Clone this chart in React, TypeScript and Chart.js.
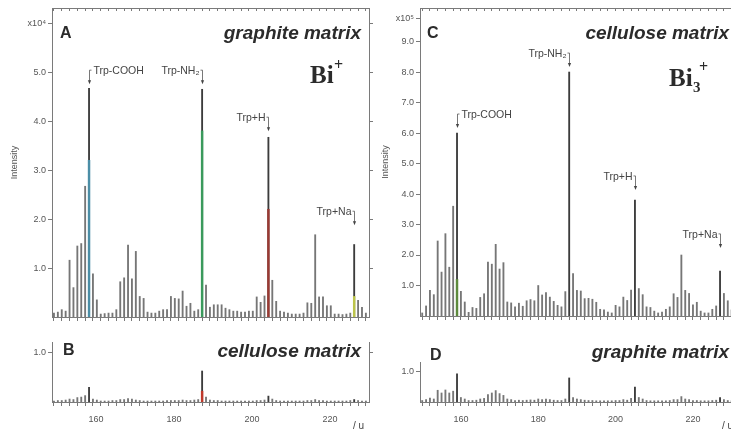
import React, { useEffect, useRef } from 'react';
import { Chart, registerables } from 'chart.js';

Chart.register(...registerables);

// ---------------- data ----------------
const masses = [
  150, 151, 152, 153, 154, 155, 156, 157, 158, 159,
  160, 161, 162, 163, 164, 165, 166, 167, 168, 169,
  170, 171, 172, 173, 174, 175, 176, 177, 178, 179,
  180, 181, 182, 183, 184, 185, 186, 187, 188, 189,
  190, 191, 192, 193, 194, 195, 196, 197, 198, 199,
  200, 201, 202, 203, 204, 205, 206, 207, 208, 209,
  210, 211, 212, 213, 214, 215, 216, 217, 218, 219,
  220, 221, 222, 223, 224, 225, 226, 227, 228, 229,
  230,
];

// Panel A: Bi+ , graphite matrix (x10^4)
const intensityA = [
  0.08, 0.1, 0.15, 0.12, 1.16, 0.6, 1.45, 1.5, 2.67, 4.67,
  0.88, 0.35, 0.06, 0.07, 0.08, 0.08, 0.15, 0.72, 0.8, 1.47,
  0.78, 1.34, 0.42, 0.38, 0.1, 0.08, 0.08, 0.12, 0.15, 0.15,
  0.42, 0.38, 0.37, 0.53, 0.22, 0.28, 0.12, 0.15, 4.65, 0.65,
  0.2, 0.25, 0.25, 0.25, 0.18, 0.15, 0.12, 0.12, 0.1, 0.1,
  0.12, 0.12, 0.41, 0.3, 0.43, 3.67, 0.75, 0.32, 0.12, 0.1,
  0.08, 0.06, 0.06, 0.06, 0.08, 0.29, 0.28, 1.68, 0.41, 0.41,
  0.23, 0.23, 0.06, 0.06, 0.05, 0.06, 0.08, 1.48, 0.34, 0.2,
  0.08,
];

// Panel B: Bi+ , cellulose matrix (x10^4)
const intensityB = [
  0.02, 0.03, 0.03, 0.04, 0.06, 0.05, 0.09, 0.1, 0.13, 0.3,
  0.06, 0.04, 0.02, 0.02, 0.02, 0.03, 0.03, 0.05, 0.05, 0.07,
  0.06, 0.04, 0.03, 0.02, 0.02, 0.02, 0.02, 0.02, 0.02, 0.03,
  0.03, 0.03, 0.03, 0.04, 0.03, 0.03, 0.04, 0.05, 0.63, 0.1,
  0.04, 0.03, 0.03, 0.02, 0.02, 0.02, 0.02, 0.02, 0.02, 0.02,
  0.02, 0.02, 0.03, 0.03, 0.04, 0.12, 0.06, 0.03, 0.02, 0.02,
  0.02, 0.02, 0.02, 0.02, 0.02, 0.03, 0.03, 0.05, 0.03, 0.03,
  0.02, 0.02, 0.02, 0.02, 0.02, 0.02, 0.03, 0.05, 0.03, 0.02,
  0.02,
];

// Panel C: Bi3+ , cellulose matrix (x10^5)
const intensityC = [
  0.1, 0.33, 0.84, 0.7, 2.46, 1.44, 2.7, 1.6, 3.6, 6.0,
  0.81, 0.46, 0.12, 0.28, 0.25, 0.61, 0.73, 1.77, 1.7, 2.35,
  1.54, 1.75, 0.46, 0.43, 0.3, 0.42, 0.32, 0.5, 0.54, 0.5,
  1.0, 0.69, 0.77, 0.62, 0.48, 0.35, 0.3, 0.8, 8.0, 1.39,
  0.84, 0.82, 0.57, 0.58, 0.55, 0.45, 0.22, 0.2, 0.13, 0.1,
  0.35, 0.3, 0.62, 0.51, 0.85, 3.8, 0.9, 0.7, 0.3, 0.28,
  0.16, 0.1, 0.13, 0.22, 0.3, 0.73, 0.61, 2.0, 0.84, 0.74,
  0.37, 0.45, 0.16, 0.1, 0.1, 0.22, 0.33, 1.47, 0.74, 0.5,
  0.2,
];

// Panel D: Bi3+ , graphite matrix (x10^5)
const intensityD = [
  0.05, 0.08, 0.13, 0.1, 0.39, 0.3, 0.4, 0.3, 0.36, 0.94,
  0.15, 0.1, 0.05, 0.05, 0.06, 0.1, 0.12, 0.25, 0.3, 0.38,
  0.28, 0.22, 0.1, 0.08, 0.05, 0.06, 0.05, 0.06, 0.07, 0.06,
  0.1, 0.08, 0.1, 0.08, 0.06, 0.05, 0.05, 0.1, 0.8, 0.15,
  0.1, 0.08, 0.06, 0.05, 0.05, 0.04, 0.04, 0.04, 0.04, 0.04,
  0.05, 0.05, 0.08, 0.06, 0.12, 0.5, 0.15, 0.1, 0.05, 0.04,
  0.04, 0.04, 0.04, 0.04, 0.05, 0.08, 0.08, 0.18, 0.1, 0.08,
  0.05, 0.05, 0.04, 0.04, 0.04, 0.05, 0.06, 0.15, 0.08, 0.05,
  0.04,
];

// coloured (overlaid) parts of the main peaks
const highlightMassA = [159, 188, 205, 227];
const highlightValA = [3.2, 3.8, 2.2, 0.42];
const highlightColorA = ['#4b8ea6', '#3a9a5c', '#9a3a33', '#bcc44a'];
const highlightMassB = [188];
const highlightValB = [0.22];
const highlightColorB = ['#c0392b'];
const highlightMassC = [159];
const highlightValC = [1.2];
const highlightColorC = ['#5d8a3c'];
const highlightMassD: number[] = [];
const highlightValD: number[] = [];
const highlightColorD: string[] = [];

// peak annotations
const peakMass = [159, 188, 205, 227];
const peakNames = ['Trp-COOH', 'Trp-NH\u2082', 'Trp+H', 'Trp+Na'];
const peakSides = ['right', 'left', 'left', 'left'];
const labelLevelA = [5.02, 5.02, 4.06, 2.14];
const labelLevelC = [6.59, 8.59, 4.56, 2.66];

// axis ticks
const xTicks = [
  150, 152, 154, 156, 158, 160, 162, 164, 166, 168, 170, 172, 174, 176, 178,
  180, 182, 184, 186, 188, 190, 192, 194, 196, 198, 200, 202, 204, 206, 208,
  210, 212, 214, 216, 218, 220, 222, 224, 226, 228, 230,
];
const xLabelTicks = [160, 180, 200, 220];
const yTicksA = [1, 2, 3, 4, 5, 6];
const yLabelsA = ['1.0', '2.0', '3.0', '4.0', '5.0', 'x10\u2074'];
const yTicksB = [1];
const yLabelsB = ['1.0'];
const yTicksC = [1, 2, 3, 4, 5, 6, 7, 8, 9, 9.75];
const yLabelsC = ['1.0', '2.0', '3.0', '4.0', '5.0', '6.0', '7.0', '8.0', '9.0', 'x10\u2075'];
const yTicksD = [1];
const yLabelsD = ['1.0'];

// ---------------- drawing helpers ----------------
const CW = 760;
const CH = 430;
const SANS = '"Liberation Sans", Arial, sans-serif';
const SERIF = '"Liberation Serif", "Times New Roman", serif';
const AXIS = '#7a7a7a';
const TICKTXT = '#555';

function drawAnnotations(ctx: CanvasRenderingContext2D, chart: any, levels: number[]) {
  const xs = chart.scales.x;
  const ys = chart.scales.y;
  ctx.save();
  ctx.font = `10.5px ${SANS}`;
  ctx.fillStyle = '#444';
  ctx.strokeStyle = '#555';
  ctx.lineWidth = 0.8;
  ctx.textBaseline = 'middle';
  peakMass.forEach((m, i) => {
    const px = Math.round(xs.getPixelForValue(m)) + 0.5;
    const py = ys.getPixelForValue(levels[i]);
    if (peakSides[i] === 'right') {
      ctx.textAlign = 'left';
      ctx.fillText(peakNames[i], px + 4, py);
    } else {
      ctx.textAlign = 'right';
      ctx.fillText(peakNames[i], px - 3, py);
    }
    const hx = peakSides[i] === 'right' ? px + 2 : px - 2;
    ctx.beginPath();
    ctx.moveTo(hx, py - 1);
    ctx.lineTo(px, py - 1);
    ctx.lineTo(px, py + 11);
    ctx.stroke();
    ctx.beginPath();
    ctx.moveTo(px - 1.6, py + 9);
    ctx.lineTo(px + 1.6, py + 9);
    ctx.lineTo(px, py + 13);
    ctx.closePath();
    ctx.fill();
  });
  ctx.restore();
}

function drawText(ctx: CanvasRenderingContext2D, text: string, x: number, y: number, font: string, align: CanvasTextAlign, color = '#2b2b2b') {
  ctx.save();
  ctx.font = font;
  ctx.fillStyle = color;
  ctx.textAlign = align;
  ctx.textBaseline = 'alphabetic';
  ctx.fillText(text, x, y);
  ctx.restore();
}

type Spec = {
  left: number; top: number; right: number; bottom: number;
  xMin: number; xMax: number; yMax: number;
  values: number[];
  hiMass: number[]; hiVal: number[]; hiColor: string[];
  yTicks: number[]; yLabels: string[];
  showXLabels: boolean; showTop: boolean; showRight: boolean; showTitle: boolean;
  titlePad: number; labelOffset: number;
  draw: (ctx: CanvasRenderingContext2D, chart: any) => void;
};

const panels: Spec[] = [
  {
    left: 52, top: 8, right: 369, bottom: 317,
    xMin: 149.5, xMax: 230.8, yMax: 6.31,
    values: intensityA, hiMass: highlightMassA, hiVal: highlightValA, hiColor: highlightColorA,
    yTicks: yTicksA, yLabels: yLabelsA,
    showXLabels: false, showTop: true, showRight: true, showTitle: true, titlePad: 5, labelOffset: 0,
    draw: (ctx, chart) => {
      drawText(ctx, 'A', 60, 38, `bold 16px ${SANS}`, 'left');
      drawText(ctx, 'graphite matrix', 361, 39, `italic bold 19px ${SANS}`, 'right');
      drawText(ctx, 'Bi', 310, 83, `bold 25px ${SERIF}`, 'left');
      drawText(ctx, '+', 334, 70, `bold 16px ${SERIF}`, 'left');
      drawAnnotations(ctx, chart, labelLevelA);
    },
  },
  {
    left: 52, top: 342, right: 369, bottom: 402,
    xMin: 149.5, xMax: 230.8, yMax: 1.22,
    values: intensityB, hiMass: highlightMassB, hiVal: highlightValB, hiColor: highlightColorB,
    yTicks: yTicksB, yLabels: yLabelsB,
    showXLabels: true, showTop: false, showRight: true, showTitle: false, titlePad: 6, labelOffset: 3,
    draw: (ctx) => {
      drawText(ctx, 'B', 63, 355, `bold 16px ${SANS}`, 'left');
      drawText(ctx, 'cellulose matrix', 361, 357, `italic bold 19px ${SANS}`, 'right');
      drawText(ctx, '/ u', 353, 429, `10px ${SANS}`, 'left', '#444');
    },
  },
  {
    left: 420, top: 8, right: 740, bottom: 316,
    xMin: 149.43, xMax: 232.16, yMax: 10.1,
    values: intensityC, hiMass: highlightMassC, hiVal: highlightValC, hiColor: highlightColorC,
    yTicks: yTicksC, yLabels: yLabelsC,
    showXLabels: false, showTop: true, showRight: false, showTitle: true, titlePad: 8, labelOffset: 0,
    draw: (ctx, chart) => {
      drawText(ctx, 'C', 427, 38, `bold 16px ${SANS}`, 'left');
      drawText(ctx, 'cellulose matrix', 729, 39, `italic bold 19px ${SANS}`, 'right');
      drawText(ctx, 'Bi', 669, 86, `bold 25px ${SERIF}`, 'left');
      drawText(ctx, '3', 693, 92, `bold 15px ${SERIF}`, 'left');
      drawText(ctx, '+', 699, 72, `bold 16px ${SERIF}`, 'left');
      drawAnnotations(ctx, chart, labelLevelC);
    },
  },
  {
    left: 420, top: 362, right: 740, bottom: 402,
    xMin: 149.43, xMax: 232.16, yMax: 1.33,
    values: intensityD, hiMass: highlightMassD, hiVal: highlightValD, hiColor: highlightColorD,
    yTicks: yTicksD, yLabels: yLabelsD,
    showXLabels: true, showTop: false, showRight: false, showTitle: false, titlePad: 6, labelOffset: 0,
    draw: (ctx) => {
      drawText(ctx, 'D', 430, 360, `bold 16px ${SANS}`, 'left');
      drawText(ctx, 'graphite matrix', 729, 358, `italic bold 19px ${SANS}`, 'right');
      drawText(ctx, '/ u', 722, 429, `10px ${SANS}`, 'left', '#444');
    },
  },
];

function buildConfig(s: Spec): any {
  const yW = 48;
  const xH = s.showXLabels ? 28 : 6;
  const rW = s.showRight ? 6 : 0;
  const setXTicks = (scale: any) => { scale.ticks = xTicks.map((v) => ({ value: v })); };
  const setYTicks = (scale: any) => { scale.ticks = s.yTicks.map((v) => ({ value: v })); };
  const baseData = masses.map((m, i) => ({ x: m, y: s.values[i] }));
  const baseColors = masses.map((m) => (peakMass.includes(m) ? '#3c3c3c' : '#767676'));
  const hiData = s.hiMass.map((m, i) => ({ x: m, y: s.hiVal[i] }));
  return {
    type: 'bar',
    data: {
      datasets: [
        {
          data: baseData,
          backgroundColor: baseColors,
          barThickness: 1.2,
          grouped: false,
          order: 1,
          borderWidth: 0,
        },
        {
          data: hiData,
          backgroundColor: s.hiColor,
          barThickness: 1.8,
          grouped: false,
          order: 0,
          borderWidth: 0,
        },
      ],
    },
    options: {
      responsive: false,
      maintainAspectRatio: false,
      devicePixelRatio: 1,
      animation: false,
      events: [],
      layout: {
        autoPadding: false,
        padding: {
          left: s.left - yW,
          top: s.top,
          right: CW - s.right - rW,
          bottom: CH - s.bottom - xH,
        },
      },
      plugins: { legend: { display: false }, tooltip: { enabled: false }, title: { display: false } },
      scales: {
        x: {
          type: 'linear',
          position: 'bottom',
          min: s.xMin,
          max: s.xMax,
          offset: false,
          afterBuildTicks: setXTicks,
          afterFit: (sc: any) => { sc.height = xH; },
          ticks: {
            display: s.showXLabels,
            autoSkip: false,
            maxRotation: 0,
            padding: 8,
            labelOffset: s.labelOffset,
            color: TICKTXT,
            font: { size: 9, family: SANS },
            callback: (v: number) => (xLabelTicks.includes(v) ? String(v) : ''),
          },
          grid: { drawOnChartArea: false, offset: false, tickLength: 4, color: AXIS, lineWidth: 1 },
          border: { display: true, color: AXIS, width: 1 },
        },
        x2: {
          type: 'linear',
          position: 'top',
          display: s.showTop,
          min: s.xMin,
          max: s.xMax,
          offset: false,
          afterBuildTicks: setXTicks,
          afterFit: (sc: any) => { sc.height = 0; },
          ticks: { display: false, autoSkip: false },
          grid: { drawOnChartArea: false, offset: false, tickLength: -3, color: AXIS, lineWidth: 1 },
          border: { display: true, color: AXIS, width: 1 },
        },
        y: {
          type: 'linear',
          position: 'left',
          min: 0,
          max: s.yMax,
          afterBuildTicks: setYTicks,
          afterFit: (sc: any) => { sc.width = yW; },
          ticks: {
            autoSkip: false,
            padding: 2,
            color: TICKTXT,
            font: { size: 9, family: SANS },
            callback: (_v: number, i: number) => s.yLabels[i],
          },
          grid: { drawOnChartArea: false, tickLength: 4, color: AXIS, lineWidth: 1 },
          border: { display: true, color: AXIS, width: 1 },
          title: {
            display: s.showTitle,
            text: 'Intensity',
            color: TICKTXT,
            font: { size: 9, family: SANS },
            padding: { top: s.titlePad, bottom: 0 },
          },
        },
        y2: {
          type: 'linear',
          position: 'right',
          display: s.showRight,
          min: 0,
          max: s.yMax,
          afterBuildTicks: setYTicks,
          afterFit: (sc: any) => { sc.width = rW; },
          ticks: { display: false, autoSkip: false },
          grid: { drawOnChartArea: false, tickLength: 4, color: AXIS, lineWidth: 1 },
          border: { display: true, color: AXIS, width: 1 },
        },
      },
    },
    plugins: [
      {
        id: 'panelText',
        afterDraw: (chart: any) => s.draw(chart.ctx, chart),
      },
    ],
  };
}

function SpectrumPanel({ spec }: { spec: Spec }) {
  const ref = useRef<HTMLCanvasElement>(null);
  useEffect(() => {
    const chart = new Chart(ref.current as HTMLCanvasElement, buildConfig(spec));
    return () => chart.destroy();
  }, [spec]);
  return (
    <canvas
      ref={ref}
      width={CW}
      height={CH}
      style={{ position: 'absolute', left: 0, top: 0, width: CW, height: CH }}
    />
  );
}

export default function App() {
  return (
    <div
      style={{
        position: 'fixed',
        left: 0,
        top: 0,
        width: 731,
        height: 430,
        overflow: 'hidden',
        background: '#fff',
      }}
    >
      {panels.map((p, i) => (
        <SpectrumPanel key={i} spec={p} />
      ))}
    </div>
  );
}
